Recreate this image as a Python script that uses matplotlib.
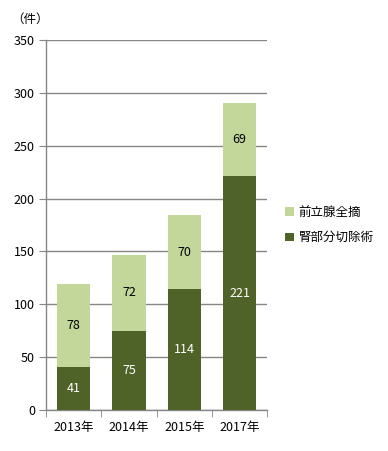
import matplotlib.pyplot as plt
import numpy as np

plt.rcParams['font.family'] = ['Noto Sans CJK JP', 'DejaVu Sans']

years = ["2013年", "2014年", "2015年", "2017年"]
partial = [41, 75, 114, 221]      # 腎部分切除術
prostate = [78, 72, 70, 69]       # 前立腺全摘
yticks = [0, 50, 100, 150, 200, 250, 300, 350]

dark = "#4f6228"
light = "#c4d79b"
grey = "#868686"
fs = 9

fig = plt.figure(figsize=(3.88, 4.51), dpi=100)
ax = fig.add_axes([0.1186, 0.0909, 0.570, 0.8204])

x = np.arange(len(years))
b1 = ax.bar(x, partial, width=0.6, color=dark, label="腎部分切除術", zorder=3)
b2 = ax.bar(x, prostate, width=0.6, bottom=partial, color=light, label="前立腺全摘", zorder=3)

for i in range(len(years)):
    ax.text(x[i], partial[i] / 2, str(partial[i]), ha="center", va="center",
            color="white", fontsize=fs, zorder=4)
    ax.text(x[i], partial[i] + prostate[i] / 2, str(prostate[i]), ha="center", va="center",
            color="black", fontsize=fs, zorder=4)

ax.set_ylim(0, 350)
ax.set_xlim(-0.5, len(years) - 0.5)
ax.set_yticks(yticks)
ax.tick_params(axis="y", length=5, color=grey, labelsize=fs, pad=3)
ax.set_xticks(x)
ax.set_xticklabels(years)
ax.tick_params(axis="x", length=0, labelsize=fs, pad=8)
ax.set_xticks(np.arange(len(years) + 1) - 0.5, minor=True)
ax.tick_params(axis="x", which="minor", length=5, color=grey)
ax.yaxis.grid(True, color=grey, linewidth=1)
ax.set_axisbelow(True)
for s in ["top", "right"]:
    ax.spines[s].set_visible(False)
for s in ["left", "bottom"]:
    ax.spines[s].set_color(grey)
    ax.spines[s].set_linewidth(1)

fig.text(0.03, 0.958, "（件）", fontsize=fs, va="center")

ax.legend(handles=[b2, b1], loc="center left", bbox_to_anchor=(1.03, 0.5),
          frameon=False, fontsize=fs, handlelength=0.7, handleheight=0.7,
          handletextpad=0.4, labelspacing=1.0)

fig.savefig("out.png", dpi=100)
